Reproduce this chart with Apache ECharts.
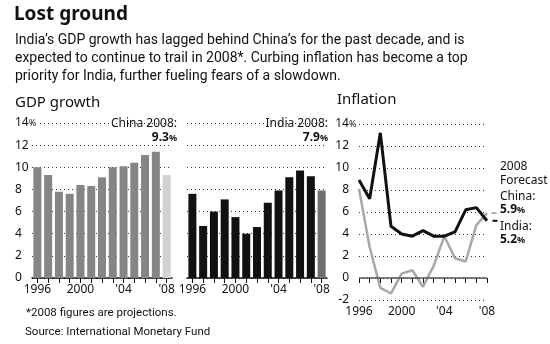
<!DOCTYPE html>
<html><head><meta charset="utf-8">
<script src="https://cdn.jsdelivr.net/npm/echarts@6/dist/echarts.min.js"></script>
<style>html,body{margin:0;padding:0;background:#fff}#c{width:550px;height:344px}</style>
</head><body><div id="c"></div>
<script>
const years = ['1996','1997','1998','1999','2000','2001','2002','2003','2004','2005','2006','2007','2008'];
const chinaGdp = [10.0, 9.3, 7.8, 7.6, 8.4, 8.3, 9.1, 10.0, 10.1, 10.4, 11.1, 11.4, 9.3];
const indiaGdp = [7.6, 4.7, 6.0, 7.1, 5.5, 4.0, 4.6, 6.8, 7.9, 9.1, 9.7, 9.2, 7.9];
const indiaInf = [8.9, 7.2, 13.2, 4.7, 4.0, 3.8, 4.3, 3.8, 3.8, 4.2, 6.2, 6.4, 5.2];
const chinaInf = [8.1, 2.8, -0.9, -1.4, 0.4, 0.7, -0.8, 1.1, 3.8, 1.8, 1.5, 4.8, 5.9];
const gdpAxis = {min: 0, max: 14, interval: 2};
const infAxis = {min: -2, max: 14, interval: 2};

const FONT = 'Noto Sans';
const fmtYear = v => (v === '1996' || v === '2000') ? v : "'" + v.slice(2);
const yFmt = v => v === 14 ? '{n|14}{p|%}' : '{n|' + v + '}';
const last = a => a[a.length - 1];

function catAxis(grid, boundary) {
  return {
    type: 'category', gridIndex: grid, data: years, boundaryGap: boundary,
    axisLine: {show: boundary, lineStyle: {color: '#111', width: 1.5}},
    axisTick: {show: true, interval: 0, alignWithLabel: true, length: 5, lineStyle: {color: '#111', width: 1}},
    axisLabel: {interval: 3, formatter: fmtYear, color: '#111', fontFamily: FONT, fontSize: 12, margin: 6}
  };
}
function valAxis(grid, cfg, showLabel, rich, margin) {
  return Object.assign({
    type: 'value', gridIndex: grid,
    axisLine: {show: false}, axisTick: {show: false},
    splitLine: {show: true, lineStyle: {type: [1, 3], color: '#333', width: 1}},
    axisLabel: {show: showLabel, formatter: yFmt, align: 'left', margin: margin, color: '#111',
      fontFamily: FONT, fontSize: 12, rich: rich}
  }, cfg);
}

const chart = echarts.init(document.getElementById('c'), null, {renderer: 'canvas'});
const txt = (x, y, text, size, opts) => ({type: 'text', x: x, y: y,
  style: Object.assign({text: text, fontFamily: FONT, fontSize: size, fill: '#111', textVerticalAlign: 'middle'}, opts || {})});
const pct = v => '{b|' + v.toFixed(1) + '}{p|%}';
const pctRich = {b: {fontFamily: FONT, fontSize: 12, fontWeight: 'bold', fill: '#111'}, p: {fontFamily: FONT, fontSize: 9, fontWeight: 'bold', fill: '#111'}};

chart.setOption({
  animation: false,
  backgroundColor: '#fff',
  grid: [
    {left: 32, width: 140, top: 123, height: 155},
    {left: 187, width: 140, top: 123, height: 155},
    {left: 359, width: 128, top: 124, height: 176}
  ],
  xAxis: [catAxis(0, true), catAxis(1, true), catAxis(2, false)],
  yAxis: [
    valAxis(0, gdpAxis, true, {n: {fontFamily: FONT, fontSize: 12, backgroundColor: '#fff', padding: [0, 0, 0, 0]}, p: {fontFamily: FONT, fontSize: 9, backgroundColor: '#fff', padding: [0, 2, 0, 0]}}, 17),
    valAxis(1, gdpAxis, false, {}, 0),
    valAxis(2, infAxis, true, {n: {fontFamily: FONT, fontSize: 12, width: 14, align: 'right', backgroundColor: '#fff'}, p: {fontFamily: FONT, fontSize: 9, backgroundColor: '#fff', padding: [0, 2, 0, 0]}}, 24)
  ],
  series: [
    {type: 'bar', xAxisIndex: 0, yAxisIndex: 0, barWidth: 8, data: chinaGdp,
      itemStyle: {color: p => p.dataIndex === chinaGdp.length - 1 ? '#d2d2d2' : '#858585'}},
    {type: 'bar', xAxisIndex: 1, yAxisIndex: 1, barWidth: 8, data: indiaGdp,
      itemStyle: {color: p => p.dataIndex === indiaGdp.length - 1 ? '#707070' : '#111'}},
    {type: 'line', xAxisIndex: 2, yAxisIndex: 2, data: chinaInf, symbol: 'none',
      lineStyle: {color: '#a8a8a8', width: 2.5}, z: 3,
      markLine: {silent: true, symbol: 'none', label: {show: false}, lineStyle: {type: 'solid', color: '#555', width: 1.5}, data: [{yAxis: 0}]},
      markPoint: {silent: true, label: {show: false}, data: [{coord: [years.length - 1, last(chinaInf)], symbol: 'rect', symbolSize: [5, 1.5], symbolOffset: [7, 0], itemStyle: {color: '#999'}}]}},
    {type: 'line', xAxisIndex: 2, yAxisIndex: 2, data: indiaInf, symbol: 'none',
      lineStyle: {color: '#111', width: 3}, z: 4,
      markPoint: {silent: true, label: {show: false}, data: [{coord: [years.length - 1, last(indiaInf)], symbol: 'rect', symbolSize: [5, 2], symbolOffset: [8, 0], itemStyle: {color: '#111'}}]}}
  ],
  graphic: [
    txt(14, 15, 'Lost ground', 19, {fontWeight: 'bold'}),
    txt(15, 40, "India\u2019s GDP growth has lagged behind China\u2019s for the past decade, and is", 14, {fontFamily: 'Roboto'}),
    txt(15, 58, "expected to continue to trail in 2008*. Curbing inflation has become a top", 14, {fontFamily: 'Roboto'}),
    txt(15, 76, "priority for India, further fueling fears of a slowdown.", 14, {fontFamily: 'Roboto'}),
    txt(15, 103, 'GDP growth', 15),
    txt(337, 100, 'Inflation', 15),
    txt(177, 124, 'China 2008:', 12, {textAlign: 'right', backgroundColor: '#fff', padding: [0, 0, 0, 3]}),
    txt(177, 138, pct(last(chinaGdp)), 12, {textAlign: 'right', rich: pctRich, backgroundColor: '#fff', padding: [0, 0, 0, 3]}),
    txt(328, 124, 'India 2008:', 12, {textAlign: 'right', backgroundColor: '#fff', padding: [0, 0, 0, 3]}),
    txt(328, 138, pct(last(indiaGdp)), 12, {textAlign: 'right', rich: pctRich, backgroundColor: '#fff', padding: [0, 0, 0, 3]}),
    txt(500, 167, '2008', 12),
    txt(500, 181, 'Forecast', 12),
    txt(500, 197, 'China:', 12),
    txt(500, 210, pct(last(chinaInf)), 12, {rich: pctRich}),
    txt(500, 227, 'India:', 12),
    txt(500, 240, pct(last(indiaInf)), 12, {rich: pctRich}),
    txt(26, 313, '*2008 figures are projections.', 11.5, {fontFamily: 'Roboto'}),
    txt(25, 332, 'Source: International Monetary Fund', 11.5, {fontFamily: 'Roboto'})
  ]
});
</script></body></html>
